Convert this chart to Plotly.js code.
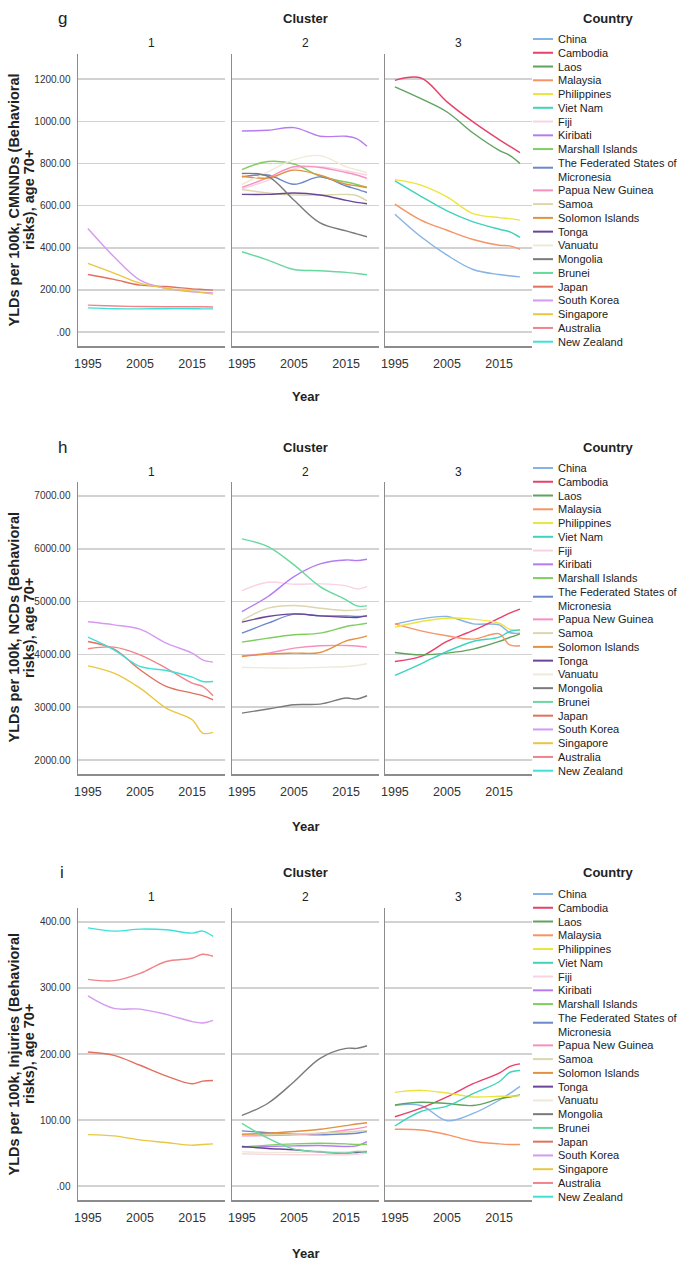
<!DOCTYPE html>
<html><head><meta charset="utf-8">
<script src="https://cdn.plot.ly/plotly-3.0.1.min.js"></script>
<style>html,body{margin:0;padding:0;background:#fff}#chart{width:685px;height:1263px}</style>
</head><body><div id="chart"></div>
<script>
// ---------------- DATA ----------------
const years = [1995, 2000, 2005, 2010, 2015, 2017, 2019];
const xTickVals = [1995, 2005, 2015];
const countries = ["China","Cambodia","Laos","Malaysia","Philippines","Viet Nam","Fiji","Kiribati","Marshall Islands","The Federated States of Micronesia","Papua New Guinea","Samoa","Solomon Islands","Tonga","Vanuatu","Mongolia","Brunei","Japan","South Korea","Singapore","Australia","New Zealand"];
const clusters = [3,3,3,3,3,3,2,2,2,2,2,2,2,2,2,2,2,1,1,1,1,1];
const countryColors = ["#86b3e6","#e6416a","#5fa35d","#f59567","#ece43e","#3fd3be","#f9d3e2","#b57cf2","#80cd60","#6b88c9","#f691be","#dcd6ad","#e2913f","#6a4596","#efe9d8","#7a7a7a","#68d8a0","#e2705f","#d59af0","#e8c742","#f2838a","#3fe0d8"];

// g: YLDs per 100k, CMNNDs (Behavioral risks), age 70+
const cmnndValues = {
  "China":[559,452,365,297,273,267,262],
  "Cambodia":[1194,1205,1092,997,913,882,851],
  "Laos":[1163,1107,1044,944,862,838,800],
  "Malaysia":[607,531,483,439,412,409,393],
  "Philippines":[723,697,641,562,543,538,531],
  "Viet Nam":[717,644,575,523,488,476,449],
  "Fiji":[680,720,775,785,765,755,745],
  "Kiribati":[954,957,970,929,929,918,881],
  "Marshall Islands":[771,809,797,739,712,700,686],
  "The Federated States of Micronesia":[736,745,701,736,693,678,662],
  "Papua New Guinea":[686,733,784,781,757,745,729],
  "Samoa":[676,660,650,650,653,648,622],
  "Solomon Islands":[739,731,768,744,701,694,686],
  "Tonga":[653,653,660,650,625,615,609],
  "Vanuatu":[700,760,818,837,784,770,756],
  "Mongolia":[752,739,625,518,480,466,452],
  "Brunei":[381,341,297,291,283,278,272],
  "Japan":[273,250,223,216,205,202,199],
  "South Korea":[491,357,246,207,191,188,186],
  "Singapore":[326,280,232,208,194,187,180],
  "Australia":[128,124,121,120,120,120,119],
  "New Zealand":[115,111,110,111,111,110,110]
};
// h: YLDs per 100k, NCDs (Behavioral risks), age 70+
const ncdValues = {
  "China":[4573,4673,4718,4579,4560,4415,4402],
  "Cambodia":[3866,3961,4245,4453,4686,4780,4856],
  "Laos":[4037,3992,4024,4100,4245,4320,4390],
  "Malaysia":[4579,4446,4352,4289,4390,4180,4163],
  "Philippines":[4516,4623,4686,4667,4591,4478,4453],
  "Viet Nam":[3602,3822,4055,4245,4327,4434,4465],
  "Fiji":[5209,5367,5329,5335,5298,5241,5285],
  "Kiribati":[4812,5096,5474,5714,5789,5777,5802],
  "Marshall Islands":[4232,4308,4371,4402,4528,4560,4591],
  "The Federated States of Micronesia":[4402,4591,4762,4730,4730,4720,4730],
  "Papua New Guinea":[3973,4024,4118,4163,4169,4160,4137],
  "Samoa":[4642,4875,4926,4875,4831,4840,4862],
  "Solomon Islands":[3961,4005,4024,4037,4257,4300,4352],
  "Tonga":[4610,4717,4768,4730,4705,4700,4730],
  "Vanuatu":[3753,3745,3740,3755,3772,3790,3822],
  "Mongolia":[2889,2965,3047,3059,3173,3154,3217],
  "Brunei":[6187,6042,5695,5285,5033,4919,4919],
  "Japan":[4245,4100,3709,3393,3267,3220,3141],
  "South Korea":[4617,4560,4478,4213,4024,3898,3854],
  "Singapore":[3784,3646,3362,2984,2763,2511,2523],
  "Australia":[4106,4137,3992,3740,3456,3393,3217],
  "New Zealand":[4327,4087,3772,3696,3570,3488,3488]
};
// i: YLDs per 100k, Injuries (Behavioral risks), age 70+
const injuryValues = {
  "China":[122,122,99,110,130,140,151],
  "Cambodia":[105,118,135,155,171,181,185],
  "Laos":[123,127,125,122,132,135,138],
  "Malaysia":[86,85,78,68,64,63,63],
  "Philippines":[142,145,141,135,136,136,137],
  "Viet Nam":[91,113,121,140,158,172,175],
  "Fiji":[49,48,47.5,47.5,47.5,48,50],
  "Kiribati":[59,60,61,61.5,60,61,67.5],
  "Marshall Islands":[59,62,64,65,64,63,63.5],
  "The Federated States of Micronesia":[83.6,81,79,77.6,79,80,82.6],
  "Papua New Guinea":[76,76.5,77.6,80,85,87,90],
  "Samoa":[77.6,78,79,80,82,83,84],
  "Solomon Islands":[78.6,80,82.6,86,91.6,94,96],
  "Tonga":[60,57,55,51.4,50,51,52.4],
  "Vanuatu":[52,51,51,52,52,53,54],
  "Mongolia":[107,125.5,158,193.5,208.5,208.5,212.5],
  "Brunei":[95,72.5,56,52.4,50,52.4,51.4],
  "Japan":[203,198,183,167,155,159,160],
  "South Korea":[288,269,268,260,249,247,251],
  "Singapore":[78,76,70,66,62,63,64],
  "Australia":[313,311,322,340,345,351,348],
  "New Zealand":[391,386,389,388,383,386,378]
};
const panelLetters = ["g","h","i"];
const yTitleLine1 = ["YLDs per 100k, CMNNDs (Behavioral",
                     "YLDs per 100k, NCDs (Behavioral",
                     "YLDs per 100k, Injuries (Behavioral"];
const yTitleLine2 = "risks), age 70+";
const yTickVals = [[0,200,400,600,800,1000,1200],[2000,3000,4000,5000,6000,7000],[0,100,200,300,400]];
const yTickText = [[".00","200.00","400.00","600.00","800.00","1000.00","1200.00"],
                   ["2000.00","3000.00","4000.00","5000.00","6000.00","7000.00"],
                   [".00","100.00","200.00","300.00","400.00"]];
const clusterLabels = ["1","2","3"];

// ---------------- LAYOUT ----------------
const W = 685, H = 1263;
const fx = x => x / W;
const fy = y => 1 - y / H;
const colPx = [[78,225],[232,379],[385,532]];
const rowPx = [[54,346],[482,774],[908,1200]];
const yRanges = [[-66,1319],[1735,7265],[-21,421]];
const xRange = [1993.1, 2021.3];
const titleY = [19, 447, 872];
const facetY = [43, 472, 897];
const yearY = [397, 826, 1253];
const legendY0 = [39, 468, 894];
const lineStep = 13.76;
const FONT = "Liberation Sans, Arial, sans-serif";

const panelData = [cmnndValues, ncdValues, injuryValues];
const traces = [];
const layout = {
  width: W, height: H, margin: {l:0, r:0, t:0, b:0},
  paper_bgcolor: "#fff", plot_bgcolor: "#fff",
  showlegend: false, font: {family: FONT, color: "#222"},
  annotations: [], shapes: []
};

for (let r = 0; r < 3; r++) {
  for (let c = 0; c < 3; c++) {
    const k = r*3 + c + 1;
    const xa = "xaxis" + (k === 1 ? "" : k);
    const ya = "yaxis" + (k === 1 ? "" : k);
    layout[xa] = {
      domain: [fx(colPx[c][0]), fx(colPx[c][1])], range: xRange,
      anchor: "y" + (k === 1 ? "" : k),
      showline: true, linecolor: "#8c8c8c", linewidth: 1.5,
      showgrid: false, zeroline: false, ticks: "",
      tickvals: xTickVals, ticktext: xTickVals.map(String),
      tickfont: {family: FONT, size: 12.5, color: "#333"}, ticklabelstandoff: 5,
      fixedrange: true
    };
    layout[ya] = {
      domain: [fy(rowPx[r][1]), fy(rowPx[r][0])], range: yRanges[r],
      anchor: "x" + (k === 1 ? "" : k),
      showline: true, linecolor: "#8c8c8c", linewidth: 1.5,
      showgrid: true, gridcolor: "#d2d2d2", gridwidth: 1.5, zeroline: false,
      ticks: "", tickvals: yTickVals[r], ticktext: yTickText[r],
      showticklabels: c === 0,
      tickfont: {family: FONT, size: 10, color: "#333"}, ticklabelstandoff: 4,
      fixedrange: true
    };
    layout.annotations.push({
      text: clusterLabels[c], xref: "paper", yref: "paper",
      x: fx((colPx[c][0] + colPx[c][1]) / 2), y: fy(facetY[r]),
      xanchor: "center", yanchor: "middle", showarrow: false,
      font: {family: FONT, size: 12, color: "#222"}
    });
  }
  // series
  countries.forEach((name, i) => {
    const c = clusters[i] - 1;
    const k = r*3 + c + 1;
    traces.push({
      type: "scatter", mode: "lines", name: name,
      x: years, y: panelData[r][name],
      xaxis: "x" + (k === 1 ? "" : k), yaxis: "y" + (k === 1 ? "" : k),
      line: {color: countryColors[i], width: 1.4, shape: "spline", smoothing: 1},
      showlegend: false, hoverinfo: "name+x+y"
    });
  });
  // panel texts
  const ann = (text, x, y, opts) => layout.annotations.push(Object.assign({
    text, xref: "paper", yref: "paper", x: fx(x), y: fy(y),
    xanchor: "center", yanchor: "middle", showarrow: false,
    font: {family: FONT, size: 12, color: "#222"}
  }, opts || {}));
  const midY = (rowPx[r][0] + rowPx[r][1]) / 2;
  ann(panelLetters[r], 62, titleY[r], {font: {family: FONT, size: 17, color: "#222"}});
  ann("<b>Cluster</b>", 305, titleY[r], {font: {family: FONT, size: 13, color: "#222"}});
  ann("<b>Country</b>", 608, titleY[r], {font: {family: FONT, size: 13, color: "#222"}});
  ann("<b>Year</b>", 305, yearY[r], {font: {family: FONT, size: 13, color: "#222"}});
  ann("<b>" + yTitleLine1[r] + "</b>", 13.5, midY, {textangle: -90, font: {family: FONT, size: 14.5, color: "#222"}});
  ann("<b>" + yTitleLine2 + "</b>", 29, midY, {textangle: -90, font: {family: FONT, size: 14.5, color: "#222"}});
  // legend (drawn manually to match tight SPSS spacing)
  let line = 0;
  countries.forEach((name, i) => {
    const wrap = name === "The Federated States of Micronesia";
    const yc = legendY0[r] + (line + (wrap ? 0.5 : 0)) * lineStep;
    layout.shapes.push({
      type: "line", xref: "paper", yref: "paper",
      x0: fx(533), x1: fx(553), y0: fy(wrap ? yc - 2 : yc), y1: fy(wrap ? yc - 2 : yc),
      line: {color: countryColors[i], width: 2}
    });
    ann(wrap ? "The Federated States of<br>Micronesia" : name, 556, yc,
        {xanchor: "left", align: "left", font: {family: FONT, size: 11, color: "#222"}});
    line += wrap ? 2 : 1;
  });
}

Plotly.newPlot("chart", traces, layout, {staticPlot: true, displayModeBar: false});
</script>
</body></html>
